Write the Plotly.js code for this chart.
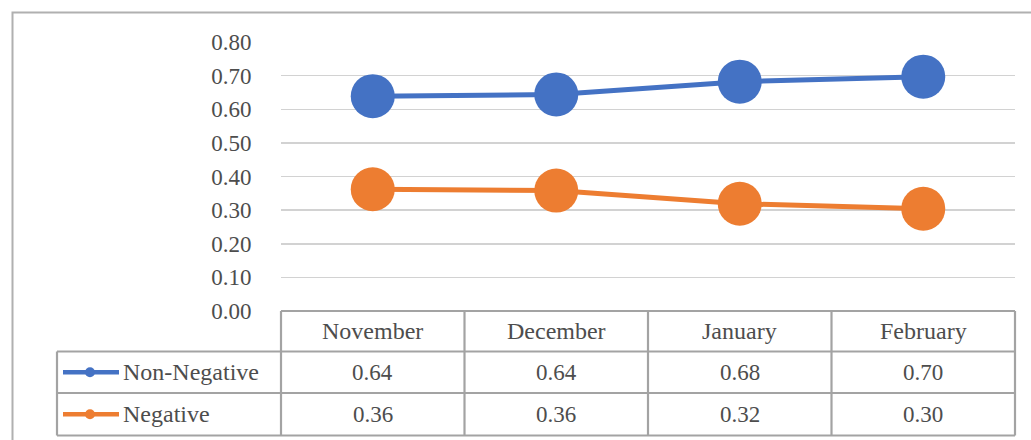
<!DOCTYPE html>
<html>
<head>
<meta charset="utf-8">
<script src="https://cdn.plot.ly/plotly-3.0.1.min.js"></script>
<style>
html,body{margin:0;padding:0;background:#fff;}
#chart{width:1031px;height:440px;}
</style>
</head>
<body>
<div id="chart"></div>
<script>
// ---- data ----
var categories = ["November", "December", "January", "February"];
var seriesNames = ["Non-Negative", "Negative"];
var nonNegative = [0.639, 0.644, 0.682, 0.697];
var negative = [0.362, 0.358, 0.319, 0.304];
var nonNegativeLabels = ["0.64", "0.64", "0.68", "0.70"];
var negativeLabels = ["0.36", "0.36", "0.32", "0.30"];
var yTickVals = [0, 0.1, 0.2, 0.3, 0.4, 0.5, 0.6, 0.7, 0.8];

// ---- layout geometry ----
var W = 1031, H = 440;
var mL = 281, mR = 16, mT = 42, mB = 129;
var PW = W - mL - mR, PH = H - mT - mB;
function px(x) { return (x - mL) / PW; }
function py(y) { return (H - mB - y) / PH; }

var blue = "#4472C4", orange = "#ED7D31";
var textColor = "#4d4d4d";
var fontFam = "Liberation Serif, Times New Roman, serif";
var fs = 23;
var wordFs = 24;
var gridCol = "#d2d2d2";
var tableCol = "#a3a3a3";

var traces = [
  {x: categories, y: nonNegative, name: seriesNames[0], type: "scatter", mode: "lines+markers",
   line: {color: blue, width: 5}, marker: {color: blue, size: 44}, cliponaxis: false, hoverinfo: "skip"},
  {x: categories, y: negative, name: seriesNames[1], type: "scatter", mode: "lines+markers",
   line: {color: orange, width: 5}, marker: {color: orange, size: 44}, cliponaxis: false, hoverinfo: "skip"}
];

// table rows (pixel y)
var rowTop = 311, rowH1 = 351.5, rowH2 = 393, rowBot = 435.5;
var colX = [281, 464.5, 648, 831.5, 1015];
var legLeft = 57;

var shapes = [];
function line(x0, y0, x1, y1, color, width) {
  shapes.push({type: "line", xref: "paper", yref: "paper", x0: px(x0), y0: py(y0), x1: px(x1), y1: py(y1),
               line: {color: color, width: width}, layer: "above"});
}
// outer frame
shapes.push({type: "rect", xref: "paper", yref: "paper", x0: px(12.5), y0: py(460), x1: px(1050), y1: py(12.5),
             line: {color: "#b0b0b0", width: 2}, fillcolor: "rgba(0,0,0,0)", layer: "below"});
// table horizontal lines
line(colX[0], rowTop, colX[4], rowTop, tableCol, 2.2);
line(legLeft, rowH1, colX[4], rowH1, tableCol, 2.2);
line(legLeft, rowH2, colX[4], rowH2, tableCol, 2.2);
line(legLeft, rowBot, colX[4], rowBot, tableCol, 2.2);
// table vertical lines
for (var i = 0; i < colX.length; i++) line(colX[i], rowTop, colX[i], rowBot, tableCol, 2.2);
line(legLeft, rowH1, legLeft, rowBot, tableCol, 2.2);

// legend keys
var rowCenters = [(rowH1 + rowH2) / 2, (rowH2 + rowBot) / 2];
var keyColors = [blue, orange];
for (var r = 0; r < 2; r++) {
  var cy = rowCenters[r];
  line(63, cy, 119, cy, keyColors[r], 4.5);
  shapes.push({type: "circle", xref: "paper", yref: "paper", x0: px(85), x1: px(95), y0: py(cy + 5), y1: py(cy - 5),
               fillcolor: keyColors[r], line: {width: 0}, layer: "above"});
}

var annotations = [];
var headerY = (rowTop + rowH1) / 2;
var colCenters = [];
for (var c = 0; c < categories.length; c++) colCenters.push((colX[c] + colX[c + 1]) / 2);
function txt(t, x, y, anchor, size) {
  annotations.push({text: t, xref: "paper", yref: "paper", x: px(x), y: py(y), xanchor: anchor || "center",
                    yanchor: "middle", showarrow: false, font: {family: fontFam, size: size || fs, color: textColor}});
}
for (var c = 0; c < categories.length; c++) {
  txt(categories[c], colCenters[c], headerY, "center", wordFs);
  txt(nonNegativeLabels[c], colCenters[c], rowCenters[0]);
  txt(negativeLabels[c], colCenters[c], rowCenters[1]);
}
txt(seriesNames[0], 121, rowCenters[0], "left", wordFs);
txt(seriesNames[1], 121, rowCenters[1], "left", wordFs);

var layout = {
  width: W, height: H,
  margin: {l: mL, r: mR, t: mT, b: mB, pad: 0},
  paper_bgcolor: "#fff", plot_bgcolor: "#fff",
  showlegend: false,
  xaxis: {type: "category", range: [-0.5, 3.5], showticklabels: false, showgrid: false, zeroline: false,
          showline: false, ticks: "", fixedrange: true},
  yaxis: {range: [0, 0.8], tickvals: yTickVals, tickformat: ".2f", showgrid: true, gridcolor: gridCol, gridwidth: 1.5,
          zeroline: false, showline: false, ticks: "outside", ticklen: 24, tickcolor: "rgba(0,0,0,0)",
          tickfont: {family: fontFam, size: fs, color: textColor}, fixedrange: true},
  shapes: shapes,
  annotations: annotations
};

Plotly.newPlot("chart", traces, layout, {staticPlot: true, displayModeBar: false});
</script>
</body>
</html>
